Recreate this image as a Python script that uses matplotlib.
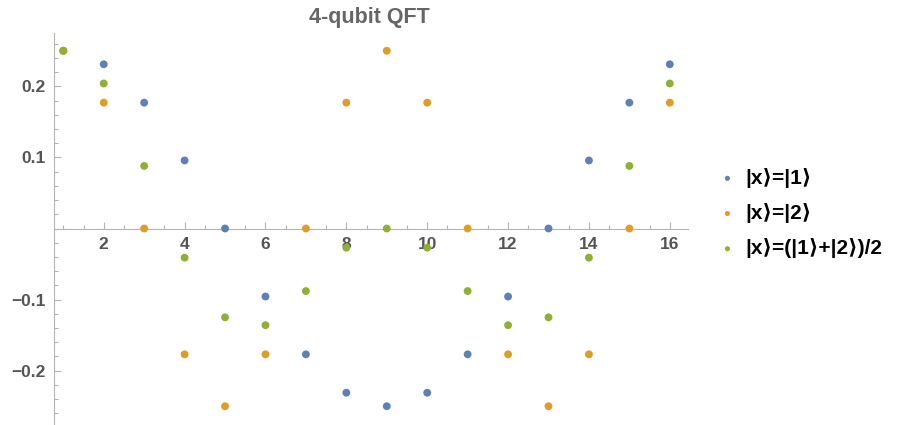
import matplotlib
matplotlib.use("Agg")
import matplotlib.pyplot as plt
from matplotlib.ticker import MultipleLocator

plt.rcParams['font.family'] = ['Liberation Sans', 'DejaVu Sans']

# real parts of QFT amplitudes, index k = 1..16
k = list(range(1, 17))
amp_1 = [0.25, 0.231, 0.177, 0.0957, 0.0, -0.0957, -0.177, -0.231,
         -0.25, -0.231, -0.177, -0.0957, 0.0, 0.0957, 0.177, 0.231]
amp_2 = [0.25, 0.177, 0.0, -0.177, -0.25, -0.177, 0.0, 0.177,
         0.25, 0.177, 0.0, -0.177, -0.25, -0.177, 0.0, 0.177]
amp_sup = [0.25, 0.204, 0.088, -0.041, -0.125, -0.136, -0.088, -0.027,
           0.0, -0.027, -0.088, -0.136, -0.125, -0.041, 0.088, 0.204]

labels = ["|x⟩=|1⟩", "|x⟩=|2⟩", "|x⟩=(|1⟩+|2⟩)/2"]
colors = ["#5E81B5", "#E19C24", "#8FB032"]

fig = plt.figure(figsize=(8.97, 4.25), dpi=100)
ax = fig.add_axes([54 / 897, 1 / 425, (688 - 54) / 897, (424 - 33) / 425])

for ys, c, lab in zip([amp_1, amp_2, amp_sup], colors, labels):
    ax.scatter(k, ys, s=32, color=c, label=lab, edgecolors='none', zorder=3)

ax.set_xlim(0.77, 16.45)
ax.set_ylim(-0.275, 0.275)

axcol = "#b4b4b4"
for side in ["top", "right"]:
    ax.spines[side].set_visible(False)
ax.spines["bottom"].set_position(("data", 0))
ax.spines["bottom"].set_color(axcol)
ax.spines["left"].set_color(axcol)

ax.xaxis.set_minor_locator(MultipleLocator(0.5))
ax.yaxis.set_minor_locator(MultipleLocator(0.02))
ax.set_xticks([2, 4, 6, 8, 10, 12, 14, 16])
ax.set_yticks([-0.2, -0.1, 0.1, 0.2])
ax.set_yticklabels(["\u22120.2", "\u22120.1", "0.1", "0.2"])

ax.tick_params(which='both', direction='in', color=axcol, labelcolor="#555555",
               labelsize=12.5, width=0.8)
ax.tick_params(which='major', length=5, pad=6)
ax.tick_params(which='minor', length=3)
for t in ax.get_xticklabels() + ax.get_yticklabels():
    t.set_fontweight('bold')

fig.text(369 / 897, 1 - 17 / 425, "4-qubit QFT", ha='center', va='center',
         fontsize=15.5, fontweight='bold', color="#666666")

leg = fig.legend(loc='center left', bbox_to_anchor=(717 / 897, 1 - 213 / 425),
                 frameon=False, borderpad=0, borderaxespad=0,
                 handlelength=1.0, handletextpad=0.35, labelspacing=0.73,
                 markerscale=0.65,
                 prop={'size': 15, 'weight': 'bold',
                       'family': ['Liberation Sans', 'DejaVu Sans']})

fig.savefig("out.png", dpi=100)
